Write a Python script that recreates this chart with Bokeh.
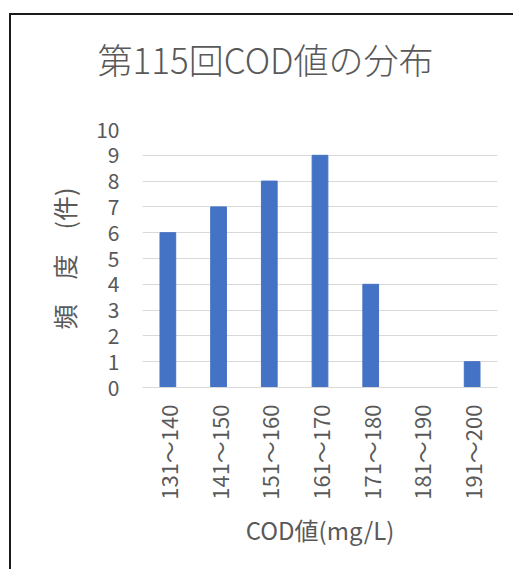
import math
from bokeh.plotting import figure
from bokeh.models import FactorRange, SingleIntervalTicker, Title
from bokeh.embed import file_html
from bokeh.resources import INLINE

categories = ["131～140", "141～150", "151～160", "161～170", "171～180", "181～190", "191～200"]
counts = [6, 7, 8, 9, 4, 0, 1]
title_text = "第115回COD値の分布"
x_label = "COD値(mg/L)"
y_label = "頻　度　(件)"

FONT = "Noto Sans CJK JP"
TXT = "#595959"

p = figure(
    x_range=FactorRange(*categories, range_padding=0),
    y_range=(0, 10),
    width=504, height=556,
    output_backend="svg", toolbar_location=None,
    min_border_left=131, min_border_right=18,
    min_border_top=114, min_border_bottom=184,
)
p.margin = (13, 0, 0, 9)
p.styles = {"border-top": "2px solid #1a1a1a", "border-left": "2px solid #1a1a1a"}

p.vbar(x=categories, top=counts, width=0.31, color="#4472C4")

# blank spacer between the title and the plot area
p.add_layout(Title(text=" ", text_font_size="10px", standoff=28), "above")

p.title.text = title_text
p.title.align = "left"
p.title.offset = -45
p.title.standoff = 10
p.title.text_font = "Noto Sans CJK JP Light, Noto Sans CJK JP"
p.title.text_font_size = "35px"
p.title.text_font_style = "normal"
p.title.text_color = TXT

p.outline_line_color = None
p.xgrid.grid_line_color = None
p.ygrid.grid_line_color = "#d9d9d9"
p.ygrid.grid_line_width = 1
p.yaxis.ticker = SingleIntervalTicker(interval=1)

for ax in (p.xaxis[0], p.yaxis[0]):
    ax.major_tick_line_color = None
    ax.minor_tick_line_color = None
    ax.major_label_text_font = FONT
    ax.major_label_text_color = TXT
    ax.axis_label_text_font = FONT
    ax.axis_label_text_color = TXT
    ax.axis_label_text_font_style = "normal"
    ax.axis_label_text_font_size = "24px"

p.yaxis.axis_line_color = None
p.yaxis.major_label_text_font_size = "21px"
p.yaxis.major_label_standoff = 17
p.yaxis.axis_label = y_label
p.yaxis.axis_label_text_font_size = "25px"
p.yaxis.axis_label_standoff = 11

p.xaxis.axis_line_color = "#d9d9d9"
p.xaxis.major_label_text_font_size = "22px"
p.xaxis.major_label_orientation = math.pi / 2
p.xaxis.major_label_standoff = 11
p.xaxis.axis_label = x_label
p.xaxis.axis_label_standoff = 9

open("out.html", "w").write(file_html(p, INLINE))
